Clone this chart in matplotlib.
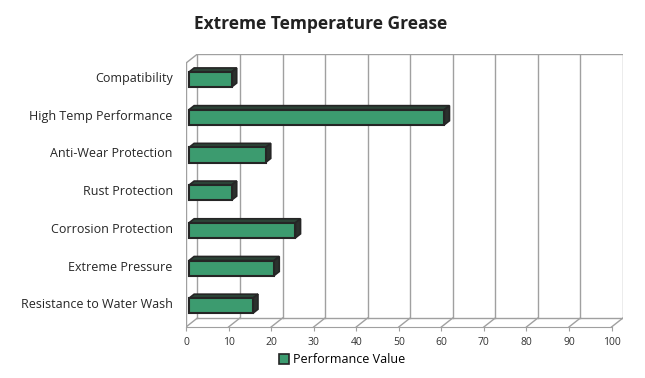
import matplotlib.pyplot as plt
from matplotlib.patches import Polygon, Rectangle
from matplotlib.lines import Line2D

plt.rcParams['font.family'] = ['Open Sans', 'DejaVu Sans']

# chart data
categories = ['Compatibility', 'High Temp Performance', 'Anti-Wear Protection',
              'Rust Protection', 'Corrosion Protection', 'Extreme Pressure',
              'Resistance to Water Wash']
values = [10, 60, 18, 10, 25, 20, 15]
ticks = [0, 10, 20, 30, 40, 50, 60, 70, 80, 90, 100]

# pseudo 3d depth offset (data units) and bar depth range
DX, DY = 2.7, -0.24
Z0, Z1 = 0.26, 0.71
BAR_H = 0.4
grid_c = '#a0a0a0'
face_c = '#3c9b6f'
top_c = '#2c4437'
side_c = '#2b302d'
edge_c = '#252525'

fig = plt.figure(figsize=(6.45, 3.78), dpi=100)
ax = fig.add_axes([186 / 645, 1 - 327 / 378, (623 - 186) / 645, (327 - 54) / 378])
n = len(categories)
ax.set_xlim(0, 100 + DX)
ax.set_ylim(n - 0.5, -0.5 + DY)

# walls and floor
top, bot = -0.5, n - 0.5
for t in ticks:
    ax.plot([t + DX, t + DX], [top + DY, bot + DY], color=grid_c, lw=1, zorder=1)
    ax.plot([t, t + DX], [bot, bot + DY], color=grid_c, lw=1, zorder=1)
ax.plot([DX, 100 + DX], [top + DY, top + DY], color=grid_c, lw=1, zorder=1)
ax.plot([DX, 100 + DX], [bot + DY, bot + DY], color=grid_c, lw=1, zorder=1)
ax.plot([0, 0], [top, bot], color=grid_c, lw=1, zorder=1)
ax.plot([0, DX], [top, top + DY], color=grid_c, lw=1, zorder=1)

# bars
ddx, ddy = (Z1 - Z0) * DX, (Z1 - Z0) * DY
for i, v in enumerate(values):
    x0 = Z0 * DX
    y_top = i - BAR_H / 2 + Z0 * DY
    y_bot = i + BAR_H / 2 + Z0 * DY
    topf = Polygon([(x0, y_top), (x0 + v, y_top), (x0 + v + ddx, y_top + ddy),
                    (x0 + ddx, y_top + ddy)], closed=True, fc=top_c, ec=edge_c,
                   lw=1.2, zorder=3)
    side = Polygon([(x0 + v, y_top), (x0 + v, y_bot), (x0 + v + ddx, y_bot + ddy),
                    (x0 + v + ddx, y_top + ddy)], closed=True, fc=side_c, ec=edge_c,
                   lw=1.2, zorder=3)
    front = Rectangle((x0, y_top), v, BAR_H, fc=face_c, ec=edge_c, lw=1.5, zorder=4)
    ax.add_patch(topf)
    ax.add_patch(side)
    ax.add_patch(front)

# axes styling
for s in ['top', 'right', 'left']:
    ax.spines[s].set_visible(False)
ax.spines['bottom'].set_bounds(0, 100)
ax.spines['bottom'].set_color(grid_c)
ax.set_xticks(ticks)
ax.set_xticklabels([str(t) for t in ticks], fontsize=7.5, color='#333333')
ax.tick_params(axis='x', length=3, color=grid_c, pad=4)
ax.set_yticks([i - 0.13 for i in range(n)])
ax.set_yticklabels(categories, fontsize=9, color='#262626')
ax.tick_params(axis='y', length=0, pad=9.5)

fig.text(0.497, 1 - 24 / 378, 'Extreme Temperature Grease', ha='center', va='center',
         fontsize=12.5, fontweight='bold', color='#222222')

handle = Line2D([], [], marker='s', ls='', markersize=7, markerfacecolor=face_c,
                markeredgecolor=edge_c, markeredgewidth=1.2)
fig.legend([handle], ['Performance Value'], loc='center', bbox_to_anchor=(0.53, 0.048),
           frameon=False, fontsize=9, handletextpad=0.2, handlelength=1.0)

fig.savefig('out.png', dpi=100)
